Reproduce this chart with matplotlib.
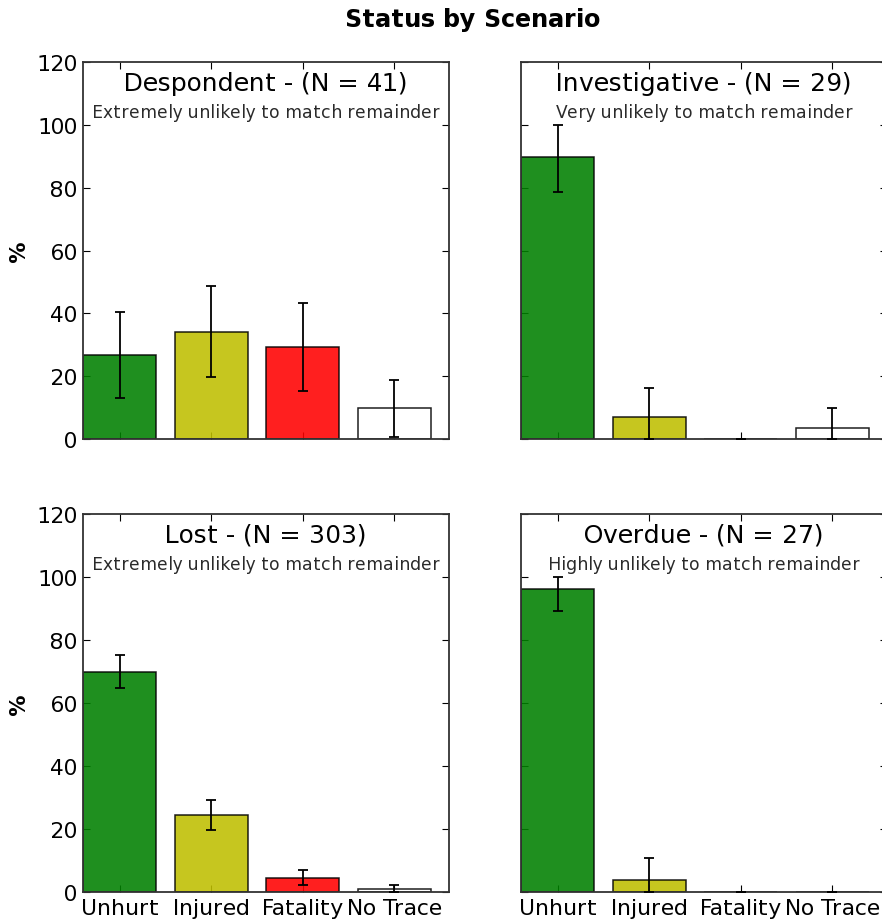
import matplotlib
matplotlib.use("Agg")
import matplotlib.pyplot as plt
import numpy as np

plt.rcParams['font.family'] = ['DejaVu Sans']
plt.rcParams['text.hinting'] = 'force_autohint'
plt.rcParams['text.hinting_factor'] = 1

statuses = ["Unhurt", "Injured", "Fatality", "No Trace"]
bar_colors = ["g", "y", "r", "w"]

scenarios = ["Despondent", "Investigative", "Lost", "Overdue"]
counts_n = [41, 29, 303, 27]
notes = [
    "Extremely unlikely to match remainder",
    "Very unlikely to match remainder",
    "Extremely unlikely to match remainder",
    "Highly unlikely to match remainder",
]

# percentage of each outcome per scenario
despondent_pct = [26.8, 34.1, 29.3, 9.8]
investigative_pct = [89.7, 6.9, 0.0, 3.4]
lost_pct = [70.0, 24.4, 4.6, 1.0]
overdue_pct = [96.3, 3.7, 0.0, 0.0]

# confidence interval bounds (lower, upper) in percent
despondent_lo = [13.2, 19.6, 15.4, 0.7]
despondent_hi = [40.4, 48.6, 43.2, 18.9]
investigative_lo = [78.6, 0.0, 0.0, 0.0]
investigative_hi = [100.0, 16.1, 0.0, 10.0]
lost_lo = [64.8, 19.6, 2.3, 0.0]
lost_hi = [75.2, 29.2, 7.0, 2.1]
overdue_lo = [89.2, 0.0, 0.0, 0.0]
overdue_hi = [100.0, 10.8, 0.0, 0.0]

pcts = [despondent_pct, investigative_pct, lost_pct, overdue_pct]
los = [despondent_lo, investigative_lo, lost_lo, overdue_lo]
his = [despondent_hi, investigative_hi, lost_hi, overdue_hi]

W, H = 882, 920
fig = plt.figure(figsize=(W / 100, H / 100), dpi=100)

# axes boxes in pixel coordinates: left, top, right, bottom
boxes = [
    (83, 63, 449, 440),
    (521, 63, 887, 440),
    (83, 515, 449, 893),
    (521, 515, 887, 893),
]

for i, (l, t, r, b) in enumerate(boxes):
    ax = fig.add_axes([l / W, 1 - b / H, (r - l) / W, (b - t) / H])
    vals = np.array(pcts[i])
    lo = np.array(los[i])
    hi = np.array(his[i])
    x = np.arange(len(statuses))
    ax.bar(x, vals, width=0.8, align="edge", color=bar_colors,
           edgecolor="black", linewidth=1.1, alpha=0.88, zorder=2)
    yerr = np.vstack([vals - lo, hi - vals])
    ax.errorbar(x + 0.4, vals, yerr=yerr, fmt="none", ecolor="black",
                elinewidth=1.3, capsize=3.5, capthick=1.3, zorder=3)
    ax.set_xlim(0, 4)
    ax.set_ylim(0, 120)
    ax.set_yticks(np.arange(0, 121, 20))
    ax.set_xticks(x + 0.4)
    ax.tick_params(direction="in", length=5, width=0.8, top=True, right=True,
                   labelsize=15.5, pad=4)
    for sp in ax.spines.values():
        sp.set_linewidth(1.3)
        sp.set_color("#333333")
    if i >= 2:
        ax.set_xticklabels(statuses, fontsize=15.5)
    else:
        ax.set_xticklabels([])
    if i % 2 == 0:
        ax.set_ylabel("%", fontsize=15, fontweight="bold", labelpad=5)
    else:
        ax.set_yticklabels([])
    ax.text(0.5, 1 - 21 / (b - t),
            f"{scenarios[i]} - (N = {counts_n[i]})",
            transform=ax.transAxes, ha="center", va="center", fontsize=18.3)
    ax.text(0.5, 1 - 50 / (b - t), notes[i],
            transform=ax.transAxes, ha="center", va="center", fontsize=12.2,
            color="#2a2a2a")

fig.text(473 / W, 1 - 20 / H, "Status by Scenario", ha="center", va="center",
         fontsize=17.6, fontweight="bold")

fig.savefig("out.png", dpi=100)
